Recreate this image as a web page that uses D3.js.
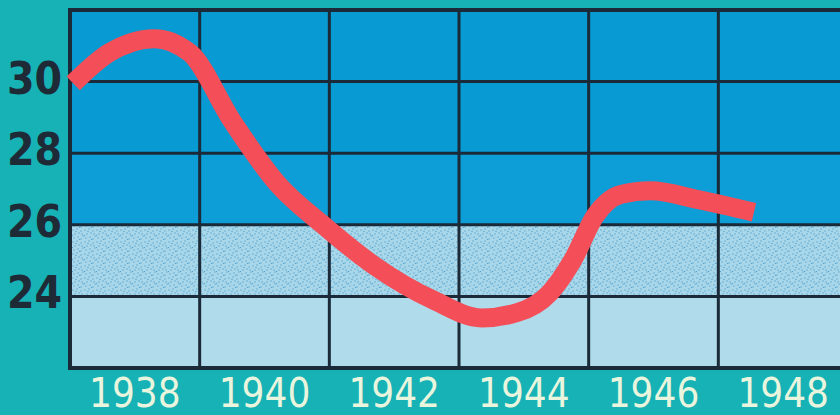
<!DOCTYPE html>
<html>
<head>
<meta charset="utf-8">
<script src="https://cdn.jsdelivr.net/npm/d3@7"></script>
<style>
  html,body{margin:0;padding:0;background:#17b2b5;overflow:hidden;}
</style>
</head>
<body>
<svg id="drawing_region"></svg>
<script>
// years (x) and values (y)
const years  = [1937.05,1937.6,1938.3,1938.85,1939.5,1940.2,1940.9,1941.7,1942.6,1943.35,1943.9,1944.4,1944.75,1945.1,1945.5,1945.95,1946.7,1947.55];
const values = [29.95,30.8,31.2,30.8,28.9,27.15,26.0,24.85,23.9,23.4,23.55,24.1,25.0,26.25,26.85,26.95,26.7,26.35];
const xTickLabels = [1938,1940,1942,1944,1946,1948];
const xGridYears  = [1937,1939,1941,1943,1945,1947,1949];
const yTickLabels = [24,26,28,30];
const yGridValues = [22,24,26,28,30,32];
// background bands
const bands = [
  {from:22,to:24,fill:"#b0dbea"},
  {from:24,to:26,fill:"url(#stipple)"},
  {from:26,to:28,fill:"#0d9dd7"},
  {from:28,to:32,fill:"#079ad3"}
];

const width = 840, height = 415;
const svg = d3.select("#drawing_region")
  .attr("width",width)
  .attr("height",height);

svg.append("rect")
  .attr("width",width).attr("height",height)
  .attr("fill","#17b2b5");

// stipple texture for the 24-26 band
const defs = svg.append("defs");
const pat = defs.append("pattern")
  .attr("id","stipple")
  .attr("patternUnits","userSpaceOnUse")
  .attr("width",12).attr("height",12);
pat.append("rect").attr("width",12).attr("height",12).attr("fill","#a8d7ea");
const dots = [[1,2],[5,1],[9,3],[3,6],[7,5],[11,8],[2,10],[6,9],[9,11],[4,3.5],[10,6],[0.5,7.5],[7.5,11.5]];
pat.selectAll("circle")
  .data(dots)
  .enter()
  .append("circle")
  .attr("cx",d=>d[0]).attr("cy",d=>d[1])
  .attr("r",0.75)
  .attr("fill","#4f9fcb")
  .attr("opacity",0.85);

const xscale = d3.scaleLinear().domain([1937,1949]).range([70,848]);
const yscale = d3.scaleLinear().domain([22,32]).range([368,10]);

const chart = svg.append("g");

chart.selectAll(".band")
  .data(bands)
  .enter()
  .append("rect")
  .attr("class","band")
  .attr("x",xscale(1937))
  .attr("width",xscale(1949)-xscale(1937))
  .attr("y",d=>yscale(d.to))
  .attr("height",d=>yscale(d.from)-yscale(d.to))
  .attr("fill",d=>d.fill);

// grid
chart.selectAll(".hgrid")
  .data(yGridValues)
  .enter()
  .append("line")
  .attr("x1",xscale(1937)).attr("x2",xscale(1949))
  .attr("y1",d=>yscale(d)).attr("y2",d=>yscale(d))
  .attr("stroke","#1b2a38")
  .attr("stroke-width",d=>(d===22||d===32)?4:3);

chart.selectAll(".vgrid")
  .data(xGridYears)
  .enter()
  .append("line")
  .attr("x1",d=>xscale(d)).attr("x2",d=>xscale(d))
  .attr("y1",yscale(32)-2).attr("y2",yscale(22)+2)
  .attr("stroke","#1b2a38")
  .attr("stroke-width",d=>d===1937?4:3);

// red curve
const pts = years.map((y,i)=>[y,values[i]]);
const line = d3.line()
  .x(d=>xscale(d[0]))
  .y(d=>yscale(d[1]))
  .curve(d3.curveMonotoneX);
chart.append("path")
  .attr("d",line(pts))
  .attr("fill","none")
  .attr("stroke","#f44f59")
  .attr("stroke-width",19)
  .attr("stroke-linecap","butt")
  .attr("stroke-linejoin","round");

// y labels
svg.selectAll(".ylab")
  .data(yTickLabels)
  .enter()
  .append("text")
  .attr("x",62)
  .attr("y",d=>yscale(d)+12)
  .attr("text-anchor","end")
  .attr("font-family","DejaVu Sans Condensed, DejaVu Sans, sans-serif")
  .attr("font-weight","bold")
  .attr("font-size","44px")
  .attr("fill","#1e2b37")
  .text(d=>d);

// x labels
svg.selectAll(".xlab")
  .data(xTickLabels)
  .enter()
  .append("text")
  .attr("x",d=>xscale(d))
  .attr("y",407)
  .attr("text-anchor","middle")
  .attr("font-family","DejaVu Sans Condensed, DejaVu Sans, sans-serif")
  .attr("font-size","40px")
  .attr("fill","#eaf5de")
  .text(d=>d);
</script>
</body>
</html>
